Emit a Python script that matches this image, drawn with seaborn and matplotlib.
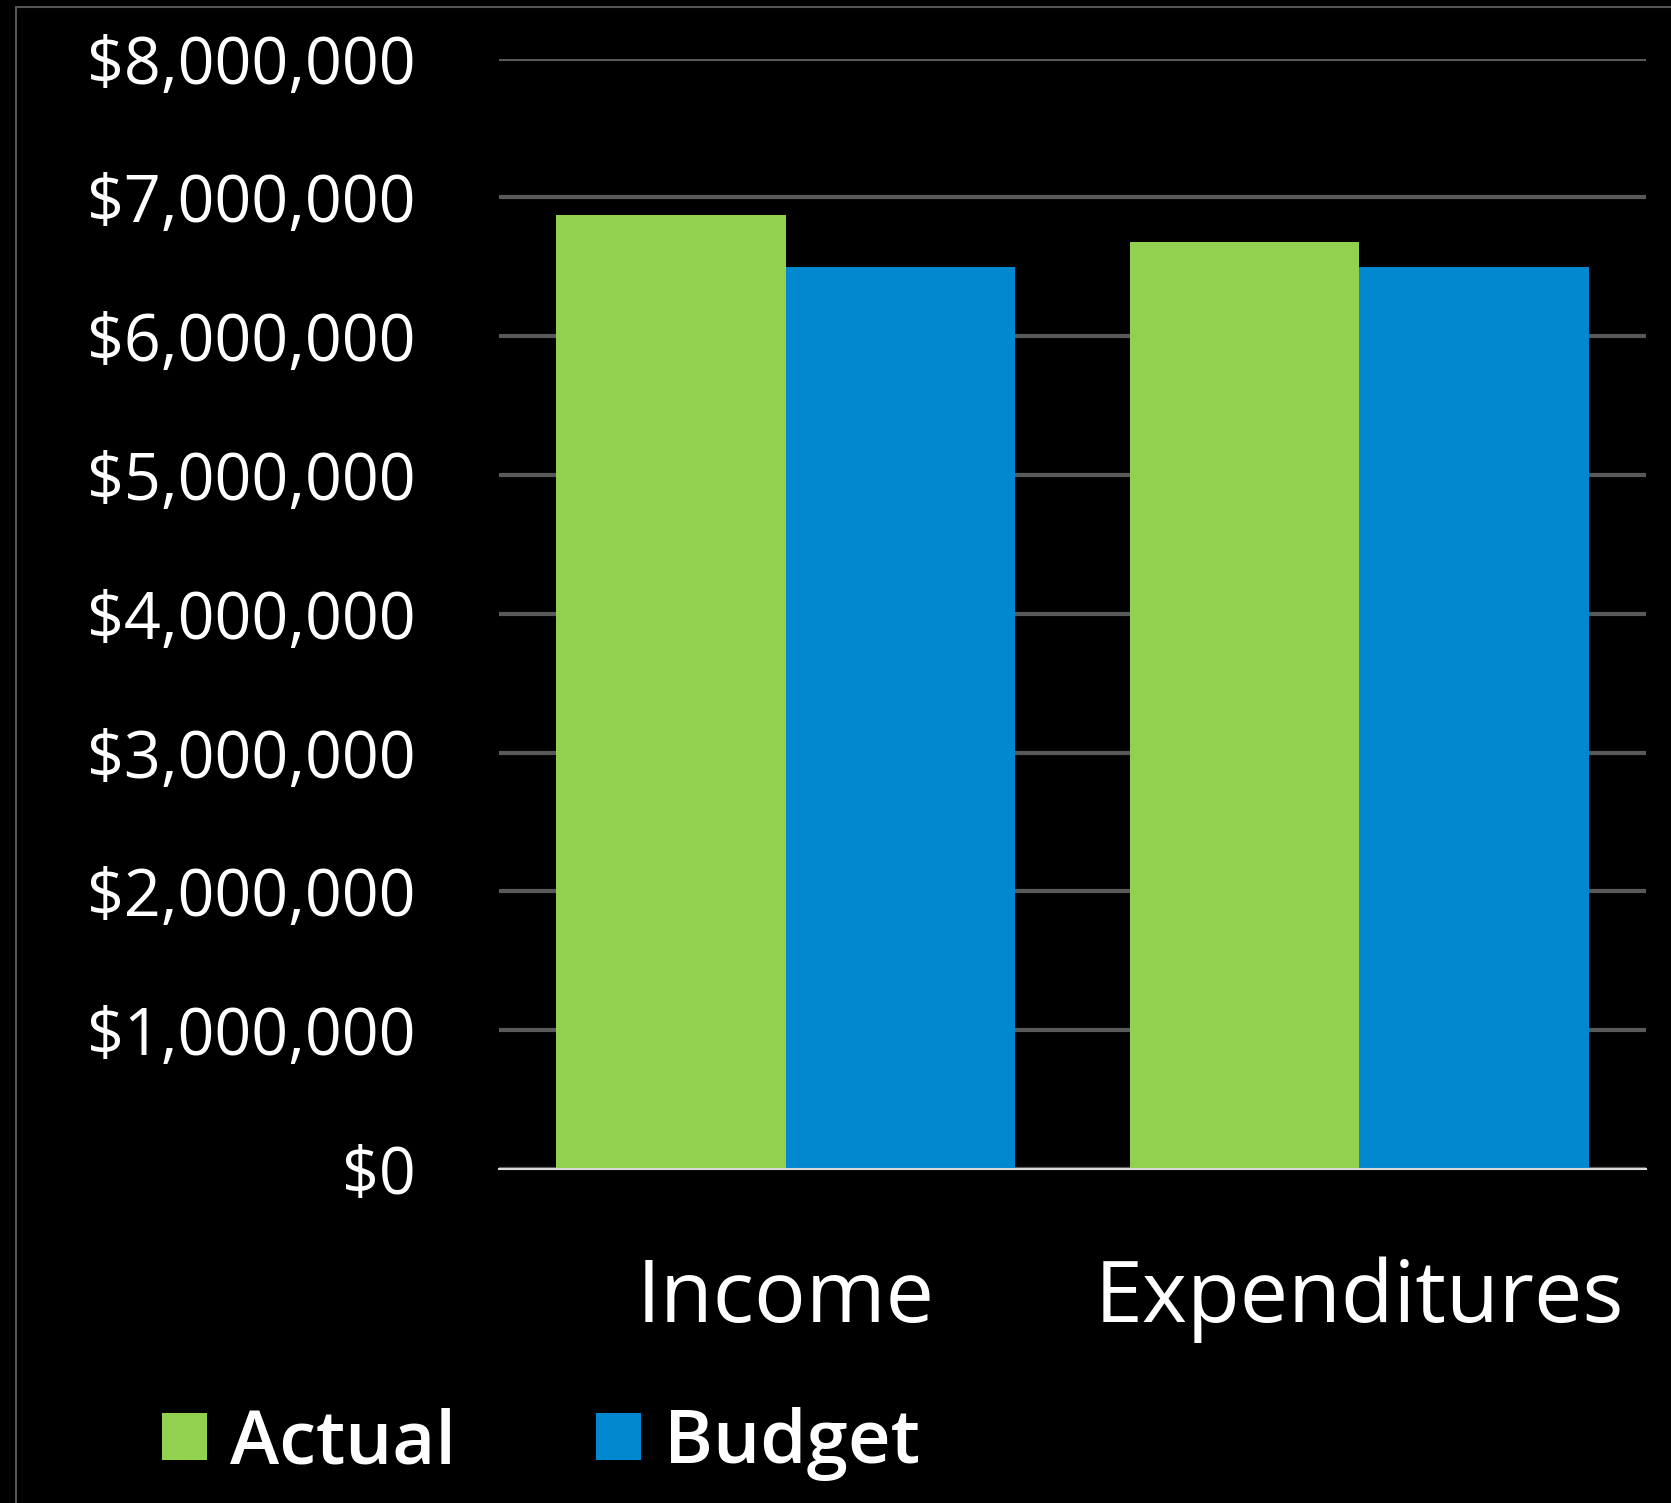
import pandas as pd
import matplotlib.pyplot as plt
import seaborn as sns
from matplotlib.patches import Patch, Rectangle
from matplotlib.ticker import FuncFormatter

# data
categories = ["Income", "Expenditures"]
series = ["Actual", "Budget"]
actual = [6870000, 6680000]
budget = [6500000, 6500000]
colors = ["#92D050", "#0288CE"]

df = pd.DataFrame({
    "category": categories * 2,
    "series": [series[0]] * 2 + [series[1]] * 2,
    "value": actual + budget,
})

sns.set_style("dark")
plt.rcParams['font.family'] = ['Open Sans', 'DejaVu Sans']

fig = plt.figure(figsize=(16.71, 15.03), dpi=100, facecolor="black")
ax = fig.add_axes([499/1671, 1-1169/1503, (1646-499)/1671, (1169-58.6)/1503])
ax.set_facecolor("black")

sns.barplot(data=df, x="category", y="value", hue="series", palette=colors,
            width=0.8, saturation=1, ax=ax, legend=False, zorder=3,
            edgecolor="none", linewidth=0)

ax.set_ylim(0, 8000000)
ax.set_xlim(-0.5, 1.5)
ax.set_yticks(range(0, 8000001, 1000000))
ax.yaxis.set_major_formatter(FuncFormatter(lambda v, p: "${:,.0f}".format(v)))
ax.grid(axis="y", color="#595959", linewidth=3, zorder=0)
ax.grid(axis="x", visible=False)
ax.set_axisbelow(True)
for s in ["top", "right", "left"]:
    ax.spines[s].set_visible(False)
ax.spines["bottom"].set_color("#D9D9D9")
ax.spines["bottom"].set_linewidth(1.5)
ax.spines["bottom"].set_zorder(4)
ax.tick_params(axis="y", length=0, pad=60, labelsize=46.5, labelcolor="white")
ax.tick_params(axis="x", length=0, pad=63, labelsize=62, labelcolor="white")
ax.set_xlabel("")
ax.set_ylabel("")

handles = [Patch(facecolor=c, edgecolor="none", label=s) for s, c in zip(series, colors)]
fig.legend(handles=handles, loc="center left", bbox_to_anchor=(162/1671, 1-1444/1503),
           ncol=2, frameon=False, prop={"size": 53.5, "weight": "semibold"},
           labelcolor="white", handlelength=0.6, handleheight=0.6,
           handletextpad=0.32, columnspacing=1.88, borderpad=0, borderaxespad=0)

# thin frame around the chart area
fig.patches.append(Rectangle((16/1671, -0.1), 1.2, 1.1 - 7/1503,
                             transform=fig.transFigure, fill=False,
                             edgecolor="#555555", linewidth=1.5))

fig.savefig("out.png", dpi=100, facecolor="black")
